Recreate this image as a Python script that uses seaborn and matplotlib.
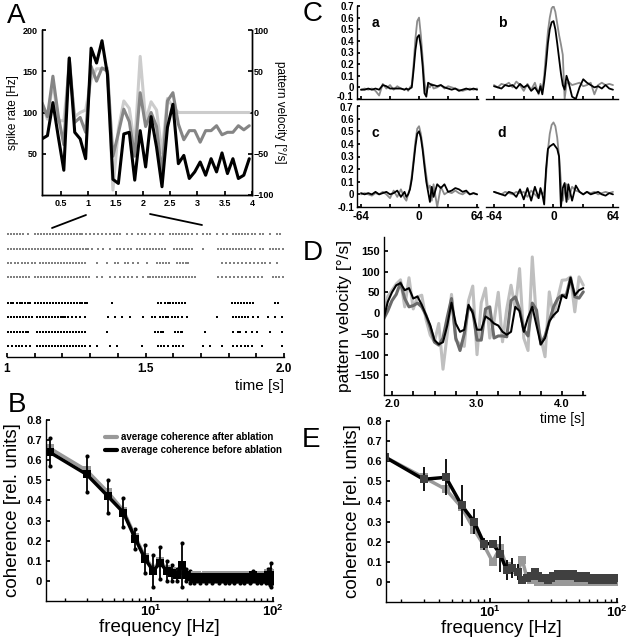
import numpy as np
import matplotlib
matplotlib.use("Agg")
import matplotlib.pyplot as plt
import seaborn as sns
from matplotlib.lines import Line2D
from matplotlib.ticker import FuncFormatter
from matplotlib.transforms import blended_transform_factory, ScaledTranslation

sns.set_theme(style="ticks")
plt.rcParams['font.family'] = ['Liberation Sans', 'DejaVu Sans']
plt.rcParams['font.weight'] = 'bold'
plt.rcParams['axes.edgecolor'] = 'black'
plt.rcParams['axes.linewidth'] = 1.0
plt.rcParams['xtick.color'] = 'black'
plt.rcParams['ytick.color'] = 'black'
plt.rcParams['text.color'] = 'black'
plt.rcParams['axes.labelcolor'] = 'black'
plt.rcParams['xtick.direction'] = 'in'
plt.rcParams['ytick.direction'] = 'in'

# ---------------- data ----------------
# A: spike rates (Hz) and pattern velocity (deg/s)
t_a = [0.15, 0.25, 0.35, 0.45, 0.55, 0.65, 0.75, 0.85, 0.95, 1.05, 1.15, 1.25, 1.35,
       1.45, 1.55, 1.65, 1.75, 1.85, 1.95, 2.05, 2.15, 2.25, 2.35, 2.45, 2.55, 2.65,
       2.75, 2.85, 2.95, 3.05, 3.15, 3.25, 3.35, 3.45, 3.55, 3.65, 3.75, 3.85, 3.95]
rate_black_a = [68, 72, 112, 70, 30, 166, 76, 68, 44, 178, 160, 187, 146,
                19, 14, 74, 76, 18, 78, 34, 95, 58, 10, 82, 110, 38,
                48, 20, 28, 40, 24, 44, 28, 51, 26, 44, 20, 24, 44]
rate_gray_a = [112, 95, 144, 95, 61, 166, 88, 94, 76, 156, 138, 154, 150,
               47, 75, 104, 89, 47, 124, 83, 100, 83, 25, 114, 124, 86,
               67, 78, 78, 64, 78, 78, 84, 73, 76, 76, 84, 79, 84]
velocity_a = [10, -8, 37, -10, -10, 55, -5, 0, 3, 40, 53, 53, 54,
              -94, -20, 14, 5, -40, 68, -10, 13, 3, -49, 17, 7, 0,
              0, 0, 0, 0, 0, 0, 0, 0, 0, 0, 0, 0, 0]

# A (raster): spike times in s, gray trials (after) and black trials (before)
raster_gray = [
    [1.004, 1.015, 1.025, 1.036, 1.047, 1.058, 1.076, 1.101, 1.112, 1.123, 1.134, 1.145,
     1.156, 1.166, 1.177, 1.188, 1.199, 1.210, 1.221, 1.232, 1.242, 1.253, 1.264, 1.271,
     1.285, 1.300, 1.314, 1.329, 1.343, 1.357, 1.372, 1.386, 1.397, 1.408, 1.433, 1.451,
     1.473, 1.487, 1.498, 1.516, 1.534, 1.552, 1.563, 1.588, 1.599, 1.610, 1.621, 1.632,
     1.643, 1.653, 1.668, 1.686, 1.708, 1.722, 1.733, 1.758, 1.780, 1.794, 1.816, 1.827,
     1.838, 1.848, 1.859, 1.870, 1.884, 1.895, 1.913, 1.924, 1.949, 1.975, 1.986],
    [1.004, 1.014, 1.025, 1.036, 1.047, 1.058, 1.069, 1.079, 1.090, 1.101, 1.112, 1.123,
     1.134, 1.144, 1.155, 1.166, 1.177, 1.188, 1.199, 1.210, 1.220, 1.231, 1.242, 1.253,
     1.264, 1.274, 1.285, 1.292, 1.307, 1.329, 1.347, 1.372, 1.397, 1.408, 1.422, 1.437,
     1.448, 1.469, 1.480, 1.495, 1.505, 1.516, 1.527, 1.538, 1.549, 1.560, 1.570, 1.603,
     1.614, 1.625, 1.636, 1.646, 1.657, 1.668, 1.708, 1.762, 1.773, 1.784, 1.794, 1.805,
     1.816, 1.827, 1.838, 1.848, 1.859, 1.870, 1.881, 1.895, 1.913, 1.924, 1.949, 1.960,
     1.971, 1.982, 1.996],
    [1.004, 1.015, 1.029, 1.040, 1.054, 1.065, 1.076, 1.090, 1.101, 1.119, 1.130, 1.141,
     1.152, 1.162, 1.173, 1.184, 1.195, 1.206, 1.217, 1.227, 1.238, 1.249, 1.260, 1.271,
     1.282, 1.325, 1.361, 1.390, 1.401, 1.426, 1.437, 1.455, 1.473, 1.505, 1.542, 1.552,
     1.563, 1.574, 1.585, 1.614, 1.625, 1.636, 1.646, 1.653, 1.776, 1.791, 1.805, 1.820,
     1.834, 1.848, 1.863, 1.877, 1.892, 1.906, 1.920, 1.931, 1.949, 1.975],
    [1.004, 1.015, 1.025, 1.036, 1.047, 1.058, 1.069, 1.079, 1.101, 1.112, 1.123, 1.134,
     1.144, 1.155, 1.166, 1.177, 1.188, 1.199, 1.210, 1.220, 1.231, 1.242, 1.253, 1.264,
     1.274, 1.285, 1.296, 1.325, 1.343, 1.372, 1.390, 1.408, 1.422, 1.437, 1.451, 1.469,
     1.491, 1.509, 1.516, 1.527, 1.538, 1.549, 1.560, 1.570, 1.581, 1.592, 1.603, 1.614,
     1.625, 1.636, 1.646, 1.657, 1.668, 1.679, 1.762, 1.776, 1.791, 1.805, 1.820, 1.834,
     1.848, 1.863, 1.877, 1.892, 1.906, 1.920, 1.960, 1.971, 1.982, 1.996],
]
raster_black = [
    [1.004, 1.015, 1.022, 1.036, 1.047, 1.054, 1.065, 1.076, 1.083, 1.101, 1.112, 1.123,
     1.134, 1.144, 1.155, 1.166, 1.177, 1.188, 1.199, 1.210, 1.220, 1.231, 1.242, 1.253,
     1.264, 1.271, 1.282, 1.289, 1.379, 1.545, 1.556, 1.570, 1.581, 1.588, 1.599, 1.610,
     1.621, 1.632, 1.643, 1.812, 1.823, 1.834, 1.845, 1.856, 1.866, 1.877, 1.888, 1.968,
     1.978],
    [1.004, 1.015, 1.025, 1.036, 1.047, 1.058, 1.069, 1.079, 1.090, 1.108, 1.119, 1.130,
     1.141, 1.152, 1.162, 1.173, 1.184, 1.195, 1.202, 1.209, 1.220, 1.235, 1.249, 1.264,
     1.282, 1.365, 1.390, 1.415, 1.444, 1.491, 1.523, 1.534, 1.552, 1.563, 1.574, 1.581,
     1.596, 1.607, 1.618, 1.632, 1.650, 1.758, 1.816, 1.827, 1.838, 1.848, 1.859, 1.870,
     1.888, 1.906, 1.942, 1.968, 1.993],
    [1.004, 1.015, 1.025, 1.036, 1.047, 1.058, 1.069, 1.076, 1.108, 1.119, 1.130, 1.141,
     1.152, 1.162, 1.173, 1.184, 1.195, 1.206, 1.217, 1.227, 1.238, 1.249, 1.260, 1.271,
     1.282, 1.361, 1.534, 1.545, 1.556, 1.563, 1.607, 1.618, 1.628, 1.632, 1.715, 1.816,
     1.834, 1.841, 1.863, 1.884, 1.903, 1.949, 1.993],
    [1.004, 1.018, 1.032, 1.043, 1.054, 1.069, 1.083, 1.108, 1.119, 1.130, 1.141, 1.152,
     1.162, 1.173, 1.184, 1.195, 1.206, 1.217, 1.227, 1.238, 1.249, 1.260, 1.271, 1.282,
     1.300, 1.325, 1.372, 1.397, 1.487, 1.545, 1.556, 1.567, 1.581, 1.599, 1.610, 1.621,
     1.635, 1.708, 1.733, 1.776, 1.816, 1.830, 1.845, 1.859, 1.870, 1.884, 1.921, 1.993],
]
raster_ticks = [1.0, 1.1, 1.2, 1.3, 1.4, 1.5, 1.6, 1.7, 1.8, 1.9, 2.0]
raster_ticklabels = ['1', '', '', '', '', '1.5', '', '', '', '', '2.0']

# B and E: coherence vs frequency
freq = [1.5, 3.0, 4.5, 6.0, 7.5, 9.0, 10.5, 12.0, 13.5, 15.0, 16.5, 18.0, 19.5, 21.0,
        22.5, 24.0, 25.5, 27.0, 28.5, 30.0, 31.5, 33.0, 34.5, 36.0, 37.5, 39.0, 40.5,
        42.0, 43.5, 45.0, 46.5, 48.0, 49.5, 51.0, 52.5, 54.0, 55.5, 57.0, 58.5, 60.0,
        61.5, 63.0, 64.5, 66.0, 67.5, 69.0, 70.5, 72.0, 73.5, 75.0, 76.5, 78.0, 79.5,
        81.0, 82.5, 84.0, 85.5, 87.0, 88.5, 90.0, 91.5, 93.0, 94.5, 96.0, 97.5, 99.0]
coh_before_b = [0.64, 0.53, 0.42, 0.34, 0.21, 0.11, 0.05, 0.09, 0.05, 0.04,
                0.03, 0.08, 0.03, 0.02, 0.01, 0.02, 0.01, 0.02, 0.01, 0.02,
                0.01, 0.02, 0.02, 0.01, 0.02, 0.02, 0.01, 0.02, 0.01, 0.02,
                0.02, 0.01, 0.02, 0.02, 0.02, 0.01, 0.02, 0.02, 0.01, 0.02,
                0.02, 0.02, 0.01, 0.02, 0.02, 0.03, 0.02, 0.02, 0.01, 0.02,
                0.02, 0.02, 0.01, 0.02, 0.02, 0.02, 0.02, 0.01, 0.02, 0.02,
                0.03, 0.02, 0.02, 0.03, 0.02, 0.01]
coh_after_b = [0.66, 0.55, 0.44, 0.35, 0.22, 0.12, 0.06, 0.10, 0.06, 0.05,
               0.04, 0.05, 0.03, 0.03, 0.02, 0.03, 0.02, 0.02, 0.03, 0.02,
               0.02, 0.03, 0.02, 0.02, 0.03, 0.02, 0.02, 0.03, 0.02, 0.02,
               0.03, 0.02, 0.03, 0.02, 0.02, 0.03, 0.02, 0.03, 0.02, 0.02,
               0.03, 0.02, 0.03, 0.03, 0.02, 0.03, 0.02, 0.03, 0.02, 0.03,
               0.02, 0.03, 0.03, 0.02, 0.03, 0.03, 0.02, 0.03, 0.03, 0.03,
               0.04, 0.03, 0.04, 0.04, 0.03, 0.03]
err_before_b = [0.07, 0.09, 0.08, 0.07, 0.05, 0.07, 0.08, 0.08, 0.05, 0.04,
                0.03, 0.11, 0.03, 0.03, 0.02, 0.02, 0.02, 0.02, 0.02, 0.02,
                0.02, 0.02, 0.02, 0.02, 0.02, 0.02, 0.02, 0.02, 0.02, 0.02,
                0.02, 0.02, 0.02, 0.02, 0.02, 0.02, 0.02, 0.02, 0.02, 0.02,
                0.02, 0.02, 0.02, 0.02, 0.02, 0.02, 0.02, 0.02, 0.02, 0.02,
                0.02, 0.02, 0.02, 0.02, 0.02, 0.02, 0.02, 0.02, 0.02, 0.02,
                0.03, 0.03, 0.04, 0.06, 0.03, 0.02]
coh_before_e = [0.62, 0.51, 0.52, 0.38, 0.30, 0.19, 0.19, 0.14, 0.06, 0.07,
                0.05, 0.01, 0.02, 0.03, 0.05, 0.03, 0.02, 0.02, 0.01, 0.02,
                0.03, 0.03, 0.04, 0.03, 0.04, 0.03, 0.04, 0.04, 0.03, 0.04,
                0.03, 0.03, 0.02, 0.03, 0.02, 0.02, 0.02, 0.03, 0.02, 0.02,
                0.02, 0.01, 0.02, 0.02, 0.02, 0.01, 0.02, 0.02, 0.02, 0.01,
                0.02, 0.02, 0.01, 0.02, 0.02, 0.02, 0.01, 0.02, 0.02, 0.02,
                0.02, 0.01, 0.02, 0.02, 0.02, 0.02]
coh_after_e = [0.62, 0.52, 0.46, 0.37, 0.26, 0.18, 0.10, 0.17, 0.08, 0.06,
               0.05, 0.11, 0.02, 0.01, 0.01, 0.00, 0.01, 0.00, 0.01, 0.01,
               0.00, 0.01, 0.01, 0.00, 0.01, 0.01, 0.01, 0.00, 0.01, 0.01,
               0.00, 0.01, 0.00, 0.01, 0.01, 0.00, 0.01, 0.01, 0.00, 0.01,
               0.01, 0.00, 0.01, 0.01, 0.00, 0.01, 0.01, 0.00, 0.01, 0.01,
               0.00, 0.01, 0.01, 0.00, 0.01, 0.01, 0.00, 0.01, 0.01, 0.00,
               0.01, 0.01, 0.00, 0.01, 0.01, 0.01]
err_before_e = [0.02, 0.06, 0.09, 0.10, 0.06, 0.03, 0.02, 0.09, 0.05, 0.05, 0.04]

# C: cross-correlations (gray = after, black = before)
lags_c = [-64, -60, -56, -52, -48, -44, -40, -36, -32, -28, -24, -20, -16, -14, -12,
          -10, -8, -6, -4, -2, 0, 2, 4, 6, 8, 10, 12, 14, 16, 20, 24, 28, 32, 36, 40,
          44, 48, 52, 56, 60, 64]
xcorr_gray = {
    'a': [-0.02, -0.01, -0.02, -0.01, -0.03, -0.07, 0.03, -0.01, 0.02, -0.02, 0.01, -0.01,
          -0.02, -0.01, -0.03, 0.00, 0.02, 0.20, 0.42, 0.57, 0.60, 0.45, 0.25, 0.05, -0.05,
          0.02, 0.00, 0.03, -0.01, 0.00, 0.02, -0.01, 0.01, 0.00, -0.01, -0.02, -0.03,
          -0.02, -0.01, -0.02, -0.01],
    'b': [0.02, 0.00, 0.03, 0.02, 0.04, 0.00, 0.05, 0.02, -0.03, 0.03, -0.02, 0.04,
          -0.06, 0.03, -0.02, 0.10, 0.30, 0.48, 0.60, 0.68, 0.70, 0.65, 0.55, 0.45, 0.37,
          0.28, -0.10, 0.03, 0.05, 0.02, 0.03, 0.04, 0.01, 0.02, 0.04, -0.06, 0.02, 0.04,
          0.02, 0.03, 0.02],
    'c': [0.00, 0.01, 0.00, -0.01, 0.01, 0.00, 0.02, 0.00, -0.03, 0.03, -0.02, 0.04,
          -0.03, -0.05, 0.00, 0.05, 0.15, 0.28, 0.42, 0.52, 0.54, 0.48, 0.38, 0.26, 0.15,
          0.05, 0.07, -0.05, 0.08, -0.10, 0.06, 0.00, 0.02, 0.01, 0.03, 0.01, 0.00, 0.02,
          0.00, 0.01, 0.00],
    'd': [0.02, 0.01, 0.00, 0.02, 0.01, 0.00, 0.02, 0.01, 0.02, -0.02, 0.03, 0.00,
          -0.03, 0.02, 0.00, 0.02, 0.15, 0.35, 0.48, 0.55, 0.57, 0.54, 0.45, 0.30, 0.10,
          -0.05, 0.04, 0.08, -0.04, 0.06, 0.03, 0.02, 0.00, 0.02, 0.01, 0.02, 0.00, 0.01,
          0.02, 0.01, 0.02],
}
xcorr_black = {
    'a': [-0.02, -0.02, -0.01, -0.02, -0.01, -0.02, 0.02, 0.01, -0.01, -0.01, -0.01, -0.01,
          -0.02, -0.01, -0.02, -0.01, 0.00, 0.15, 0.32, 0.43, 0.45, 0.35, 0.18, -0.05, -0.08,
          0.04, 0.03, 0.02, 0.02, 0.01, 0.02, 0.00, -0.01, -0.02, -0.01, -0.03, -0.02, -0.01,
          -0.02, -0.01, -0.02],
    'b': [0.01, 0.00, -0.01, 0.02, 0.01, 0.02, -0.01, 0.03, 0.00, 0.02, -0.03, 0.00,
          -0.05, 0.01, -0.06, 0.05, 0.20, 0.38, 0.50, 0.56, 0.57, 0.50, 0.38, 0.25, 0.12,
          0.02, -0.02, 0.10, 0.05, -0.08, -0.10, 0.00, 0.07, 0.04, 0.02, 0.00, 0.01, -0.01,
          0.02, -0.01, -0.02],
    'c': [0.01, 0.00, 0.01, 0.00, 0.02, 0.00, 0.01, 0.02, 0.00, 0.01, 0.03, -0.02,
          0.02, -0.02, 0.00, 0.04, 0.12, 0.25, 0.38, 0.48, 0.50, 0.45, 0.35, 0.22, 0.10,
          0.02, -0.06, 0.06, -0.02, 0.08, 0.05, 0.08, 0.02, 0.03, 0.05, 0.04, 0.02, 0.03,
          0.00, 0.01, 0.00],
    'd': [0.02, 0.01, 0.00, -0.01, 0.02, 0.01, -0.02, 0.04, -0.04, 0.05, -0.05, 0.06,
          -0.03, 0.05, 0.00, -0.08, 0.20, 0.36, 0.38, 0.39, 0.40, 0.38, 0.36, 0.30, -0.10,
          0.05, 0.09, -0.06, 0.08, -0.05, 0.07, 0.02, 0.00, 0.02, 0.00, 0.01, 0.02, 0.00,
          -0.01, 0.01, 0.00],
}
c_yticks = [-0.1, 0, 0.1, 0.2, 0.3, 0.4, 0.5, 0.6, 0.7]

# D: pattern velocity traces (deg/s)
t_d = [1.90, 1.95, 2.00, 2.05, 2.10, 2.15, 2.20, 2.25, 2.30, 2.35, 2.40, 2.45,
       2.50, 2.55, 2.60, 2.65, 2.70, 2.75, 2.80, 2.85, 2.90, 2.95, 3.00, 3.05,
       3.10, 3.15, 3.20, 3.25, 3.30, 3.35, 3.40, 3.45, 3.50, 3.55, 3.60, 3.65,
       3.70, 3.75, 3.80, 3.85, 3.90, 3.95, 4.00, 4.05, 4.10, 4.15, 4.20, 4.25]
vel_black_d = [-15, 27, 50, 67, 72, 55, 60, 35, 40, 20, -5, -29,
               -65, -75, -70, -30, 25, -25, -45, -40, 20, 0, -40, -40,
               -8, -15, -25, -30, -45, -52, -45, 15, 5, -45, -10, 15,
               -30, -75, -60, -20, -5, 5, 43, 36, 85, 43, 55, 60]
vel_dark_d = [-15, 5, 30, 45, 73, 35, 15, 18, 24, 15, -5, -35,
              -70, -77, -60, -10, 35, -60, -90, -50, 15, 5, -65, -65,
              10, 15, -60, -55, -55, -57, 30, 39, 10, -40, -55, 24,
              7, -75, -55, -20, 15, 35, 43, 43, 85, 39, 36, 51]
vel_light_d = [-10, 40, 55, 70, 80, 15, 85, 10, 39, 43, -15, -53,
               -69, -25, -135, -50, 45, -65, -75, -80, 30, 65, -100, 25,
               60, -60, -20, 50, -69, 10, 67, 10, 107, -60, -90, 135,
               -20, -60, -105, 51, -9, 36, 79, 80, 87, 3, 87, 67]

# ---------------- layout ----------------
W, H = 628, 639
fig = plt.figure(figsize=(W / 100, H / 100), dpi=100)


def px_axes(x0, y0, x1, y1):
    return fig.add_axes([x0 / W, 1 - y1 / H, (x1 - x0) / W, (y1 - y0) / H])


fmt_g = FuncFormatter(lambda v, _: '%g' % v)

# ---- A: rates and velocity ----
axA = px_axes(42, 30, 252, 195)
axV = axA.twinx()
axA.set_zorder(axV.get_zorder() + 1)
axA.patch.set_visible(False)
sns.lineplot(x=t_a, y=velocity_a, ax=axV, color='0.8', lw=2.2)
sns.lineplot(x=t_a, y=rate_gray_a, ax=axA, color='0.52', lw=2.2)
sns.lineplot(x=t_a, y=rate_black_a, ax=axA, color='black', lw=2.2)
axA.set_xlim(0.15, 4.0)
axA.set_ylim(0, 200)
axV.set_ylim(-100, 100)
axA.set_xticks([0.5, 1, 1.5, 2, 2.5, 3, 3.5, 4])
axA.xaxis.set_major_formatter(fmt_g)
axA.set_yticks([50, 100, 150, 200])
axV.set_yticks([-100, -50, 0, 50, 100])
axA.tick_params(labelsize=6.5, length=3, pad=3)
axV.tick_params(labelsize=6.5, length=3, pad=1)
for a in (axA, axV):
    a.spines['top'].set_visible(False)
axA.set_ylabel('spike rate [Hz]', fontsize=8.5, labelpad=3)
axV.set_ylabel('pattern velocity [°/s]', fontsize=8.5, rotation=270, labelpad=9)

# ---- A: raster ----
axR = px_axes(7, 228, 284, 357)
for i, spikes in enumerate(raster_gray):
    sns.scatterplot(x=spikes, y=[7.8 - i] * len(spikes), ax=axR, marker='s', s=3,
                    color='0.5', linewidth=0)
for i, spikes in enumerate(raster_black):
    sns.scatterplot(x=spikes, y=[3 - i] * len(spikes), ax=axR, marker='s', s=3,
                    color='black', linewidth=0)
axR.set_xlim(1, 2)
axR.set_ylim(-0.77, 8.25)
axR.set_yticks([])
for s in ('left', 'top', 'right'):
    axR.spines[s].set_visible(False)
axR.set_xticks(raster_ticks)
axR.set_xticklabels(raster_ticklabels)
axR.tick_params(labelsize=8.5, length=3, pad=4)
axR.set_xlabel('time [s]', loc='right', fontsize=11, labelpad=3)

fig.add_artist(Line2D([52 / W, 86 / W], [1 - 228 / H, 1 - 215 / H], color='black', lw=1.3))
fig.add_artist(Line2D([150 / W, 202 / W], [1 - 214 / H, 1 - 225 / H], color='black', lw=1.3))


# ---- B and E: coherence ----
def coherence_panel(ax, after, before, err, xmin, end_dots, mark_color):
    ax.set_xscale('log')
    sns.lineplot(x=freq, y=after, ax=ax, color='0.6', lw=2.5, marker='s',
                 markersize=6, markeredgecolor='0.6', markeredgewidth=0)
    f_err = freq[:len(err)]
    b_err = before[:len(err)]
    ax.errorbar(f_err, b_err, yerr=err, fmt='none', ecolor='black', elinewidth=1.3, capsize=0)
    if end_dots:
        lo = np.array(b_err) - np.array(err)
        hi = np.array(b_err) + np.array(err)
        sns.scatterplot(x=f_err, y=lo, ax=ax, s=9, color='black', linewidth=0)
        sns.scatterplot(x=f_err, y=hi, ax=ax, s=9, color='black', linewidth=0)
    sns.lineplot(x=freq, y=before, ax=ax, color='black', lw=2.5, marker='s',
                 markersize=6, markerfacecolor=mark_color, markeredgecolor=mark_color,
                 markeredgewidth=0)
    ax.set_xlim(xmin, 100)
    ax.set_ylim(-0.1, 0.8)
    ax.set_yticks([0, 0.1, 0.2, 0.3, 0.4, 0.5, 0.6, 0.7, 0.8])
    ax.yaxis.set_major_formatter(fmt_g)
    ax.set_xticks([10, 100])
    ax.tick_params(labelsize=8, length=3, pad=3)
    ax.tick_params(axis='x', labelsize=9.5, pad=2)
    ax.tick_params(which='minor', length=2)
    for s in ('top', 'right'):
        ax.spines[s].set_visible(False)
    ax.set_ylabel('coherence [rel. units]', fontsize=13.5, fontweight='normal', labelpad=4)
    ax.set_xlabel('frequency [Hz]', fontsize=13.5, fontweight='normal', labelpad=0)


axB = px_axes(46, 420, 273, 601)
coherence_panel(axB, coh_after_b, coh_before_b, err_before_b, 1.4, True, 'black')
axB.legend(handles=[Line2D([0], [0], color='0.6', lw=3),
                    Line2D([0], [0], color='black', lw=3)],
           labels=['average coherence after ablation', 'average coherence before ablation'],
           loc='upper left', bbox_to_anchor=(0.24, 0.96), frameon=False, fontsize=7,
           handlelength=1.2, handletextpad=0.4, labelspacing=0.3, borderpad=0)

axE = px_axes(386, 421, 617, 602)
coherence_panel(axE, coh_after_e, coh_before_e, err_before_e, 1.52, False, '0.25')

# ---- C: cross-correlations ----
c_boxes = {'a': (357, 6, 478, 99), 'b': (486, 6, 618, 99),
           'c': (357, 106, 478, 207), 'd': (486, 106, 618, 207)}
for key, (x0, y0, x1, y1) in c_boxes.items():
    ax = px_axes(x0, y0, x1, y1)
    sns.lineplot(x=lags_c, y=xcorr_gray[key], ax=ax, color='0.55', lw=1.3)
    sns.lineplot(x=lags_c, y=xcorr_black[key], ax=ax, color='black', lw=1.3)
    left_col = key in ('a', 'c')
    top_row = key in ('a', 'b')
    ax.set_xlim((-68.4, 65) if left_col else (-72.6, 69.4))
    ax.set_ylim(-0.1, 0.7)
    ax.set_xticks([-64, -32, 0, 32, 64])
    if not top_row:
        ax.set_xticklabels(['-64', '', '0', '', '64'])
    else:
        ax.set_xticklabels([])
    for s in ('top', 'right'):
        ax.spines[s].set_visible(False)
    if left_col:
        # the end label that meets the other row is drawn as its own text,
        # nudged 2 px away from the neighbouring row
        edge_val = c_yticks[0] if top_row else c_yticks[-1]
        ax.set_yticks(c_yticks)
        ax.set_yticklabels(['' if v == edge_val else '%g' % v for v in c_yticks])
        ax.tick_params(axis='y', labelsize=7)
        nudge = ScaledTranslation(0, 0.02 if top_row else -0.02, fig.dpi_scale_trans)
        ax.text(-0.028, edge_val, '%g' % edge_val, fontsize=7, ha='right', va='center',
                transform=blended_transform_factory(ax.transAxes, ax.transData) + nudge)
    else:
        ax.spines['left'].set_visible(False)
        ax.set_yticks([])
    ax.tick_params(length=2, pad=2)
    ax.tick_params(axis='x', labelsize=8.5, pad=3)
    ax.text(0.15 if left_col else 0.12, 0.82 if top_row else 0.73, key,
            transform=ax.transAxes, fontsize=10, ha='center', va='center')

# ---- D: velocity traces ----
axD = px_axes(384, 237, 585, 395)
sns.lineplot(x=t_d, y=vel_light_d, ax=axD, color='0.75', lw=2.2)
sns.lineplot(x=t_d, y=vel_dark_d, ax=axD, color='0.42', lw=2.2)
sns.lineplot(x=t_d, y=vel_black_d, ax=axD, color='black', lw=1.5)
axD.set_xlim(1.906, 4.27)
axD.set_ylim(-197, 183)
axD.set_xticks([2.0, 2.25, 2.5, 2.75, 3.0, 3.25, 3.5, 3.75, 4.0, 4.25])
axD.set_xticklabels(['2.0', '', '', '', '3.0', '', '', '', '4.0', ''])
axD.set_yticks([-150, -100, -50, 0, 50, 100, 150])
axD.tick_params(labelsize=8, length=3, pad=3)
for s in ('top', 'right'):
    axD.spines[s].set_visible(False)
axD.set_ylabel('pattern velocity [°/s]', fontsize=12.5, fontweight='normal', labelpad=2)
axD.set_xlabel('time [s]', loc='right', fontsize=10, labelpad=2)

# ---- panel letters ----
for letter, x, y in [('A', 7, 23), ('B', 8, 412), ('C', 303, 21), ('D', 303, 260), ('E', 302, 447)]:
    fig.text(x / W, 1 - y / H, letter, fontsize=20, fontweight='normal', va='baseline')

fig.savefig('out.png', dpi=100)
